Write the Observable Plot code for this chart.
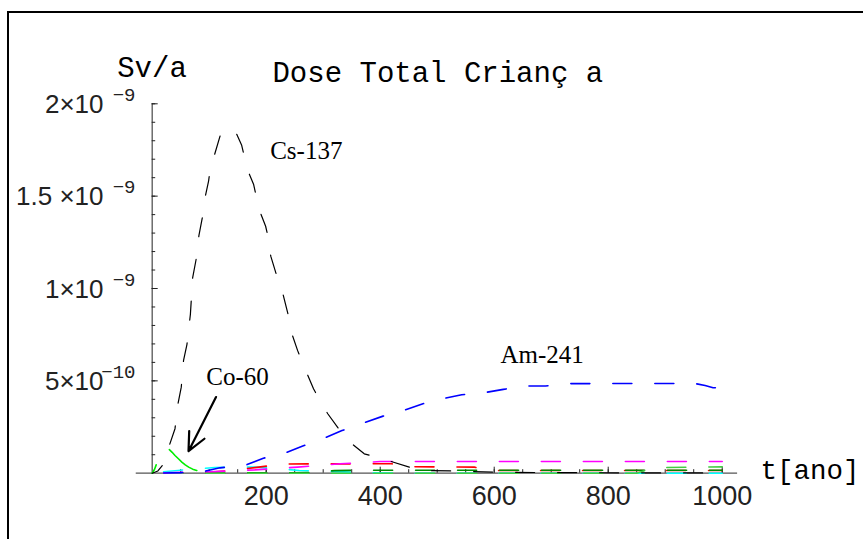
<!DOCTYPE html>
<html><head><meta charset="utf-8">
<script src="https://cdn.jsdelivr.net/npm/d3@7"></script>
<script src="https://cdn.jsdelivr.net/npm/@observablehq/plot@0.6"></script>
<style>
html,body{margin:0;padding:0;background:#fff;overflow:hidden}
#wrap{position:relative;width:863px;height:539px;overflow:hidden}
#frame{position:absolute;left:7px;top:11px;width:900px;height:600px;border-left:2px solid #000;border-top:2px solid #000;pointer-events:none;box-sizing:border-box}
#wrap svg{position:absolute;left:0;top:0}
</style></head><body><div id="wrap"><div id="frame"></div></div>
<script>
// ---- data (dose in units of 1e-9 Sv/a, time in years) ----
const csT = [0,10,20,31,40,45,51,55,61,67,71,77,82,88,93,99,101,108,119,124,145,157,167,178,187,199,204,208,220,230,241,246,255,268,283,299,308,327,350,372,413,451,464,526,600,700,1000];
const csV = [0,0.012,0.05,0.159,0.241,0.372,0.466,0.611,0.698,0.86,1.059,1.157,1.288,1.384,1.496,1.583,1.631,1.71,1.825,1.857,1.857,1.775,1.644,1.563,1.433,1.337,1.27,1.175,1.054,0.963,0.828,0.746,0.665,0.566,0.457,0.367,0.322,0.241,0.16,0.105,0.069,0.033,0.015,0.012,0.006,0.003,0.001];

const amT = [0,50,93,119,166,195,235,263,303,333,372,405,441,475,515,543,583,616,656,690,730,762,804,912,951,970,984,1000];
const amV = [0,0.003,0.011,0.029,0.046,0.081,0.112,0.146,0.192,0.231,0.273,0.309,0.340,0.376,0.407,0.425,0.436,0.454,0.472,0.472,0.485,0.485,0.486,0.486,0.486,0.475,0.463,0.46];

const coT = [0,4,7,12,18,25,30,35,40,46,52,58,64,71,78,90,110,150,250];
const coV = [0,0.02,0.045,0.09,0.12,0.13,0.128,0.113,0.096,0.078,0.06,0.045,0.033,0.022,0.015,0.01,0.005,0.001,0];

const mgT = [0,100,180,255,330,400,1000];
const mgV = [0,0.008,0.018,0.033,0.051,0.063,0.063];

const rdT = [0,100,130,180,230,420,450,565,590,1000];
const rdV = [0,0.005,0.012,0.03,0.05,0.051,0.035,0.033,0.015,0.015];

const cyT = [0,20,45,110,180,220,258,314,360,450,1000];
const cyV = [0,0.008,0.015,0.031,0.033,0.025,0.015,0.01,0.004,0,0];

const dgT = [0,280,320,360,1000];
const dgV = [0,0.003,0.014,0.016,0.016];

const lgT = [0,850,880,1000];
const lgV = [0,0,0.03,0.034];

const xMinor = d3.range(50, 1001, 50);
const xMajor = [200,400,600,800,1000];
const xLabels = ["200","400","600","800","1000"];
const yMinor = d3.range(1, 21).map(d => d / 10);
const yMajor = [0.5,1,1.5,2];
const yLabelBase = ["5\u00d710","1\u00d710","1.5 \u00d710","2\u00d710"];
const yLabelExp = ["\u221210","\u22129","\u22129","\u22129"];

const title = "Dose Total Crian\u00e7 a";
const yUnit = "Sv/a";
const xUnit = "t[ano]";
const notes = [
  {label:"Cs-137", t:207, v:1.742},
  {label:"Co-60", t:95, v:0.519},
  {label:"Am-241", t:611, v:0.638}
];
const arrowFrom = {t:112, v:0.412};
const arrowTo = {t:63.7, v:0.119};

// ---- layout ----
const W = 863, H = 539;
const mL = 151.7, mR = 125.9, mT = 103.3, mB = 66.3;
const xDom = [0, 1027], yDom = [0, 2];
const pxX = (W - mL - mR) / (xDom[1] - xDom[0]);
const pxY = (H - mT - mB) / (yDom[1] - yDom[0]);

const rows = (T, V) => T.map((t, i) => ({t, v: V[i]}));
const series = [
  {data: rows(cyT, cyV), color:"#00ffff"},
  {data: rows(rdT, rdV), color:"#ff0000"},
  {data: rows(dgT, dgV), color:"#008800"},
  {data: rows(lgT, lgV), color:"#44cc44"},
  {data: rows(mgT, mgV), color:"#ff00ff"},
  {data: rows(amT, amV), color:"#0000ff"},
];

const dash = "19,23";
const lineMarks = series.map(s => Plot.line(s.data, {x:"t", y:"v", stroke:s.color, strokeWidth:1.6, strokeDasharray:dash, strokeDashoffset:30.5}));

const tickX = len => len / pxY;
const tickY = len => len / pxX;

const chart = Plot.plot({
  width: W, height: H,
  marginLeft: mL, marginRight: mR, marginTop: mT, marginBottom: mB,
  x: {domain: xDom, axis: null},
  y: {domain: yDom, axis: null},
  style: {background: "transparent", overflow: "visible"},
  marks: [
    // axes lines
    Plot.ruleY([0], {x1: -28, x2: xDom[1], stroke:"#555", strokeWidth:1.3}),
    Plot.ruleX([0], {y1: 0, y2: 2, stroke:"#555", strokeWidth:1.3}),
    // x ticks
    Plot.ruleX(xMinor, {x: d => d, y1: 0, y2: tickX(3.5), stroke:"#222", strokeWidth:1}),
    Plot.ruleX(xMajor, {x: d => d, y1: 0, y2: tickX(6), stroke:"#222", strokeWidth:1}),
    // y ticks
    Plot.ruleY(yMinor, {y: d => d, x1: 0, x2: tickY(3.5), stroke:"#222", strokeWidth:1}),
    Plot.ruleY(yMajor, {y: d => d, x1: 0, x2: tickY(6), stroke:"#222", strokeWidth:1}),
    // x tick labels
    Plot.text(xMajor, {x: d => d, y: 0, text: (d, i) => xLabels[i], dy: 23, fontSize: 27, fontFamily: "Liberation Sans, Arial, sans-serif", fill:"#222"}),
    // y tick labels
    Plot.text(yMajor, {x: 0, y: d => d, text: (d, i) => yLabelBase[i], textAnchor: "end", dx: -48.7, dy: 1, fontSize: 26, fontFamily: "Liberation Sans, Arial, sans-serif", fill:"#222"}),
    Plot.text(yMajor, {x: 0, y: d => d, text: (d, i) => yLabelExp[i], textAnchor: "end", dx: -16.7, dy: -9, fontSize: 19, fontFamily: "Liberation Mono, Courier New, monospace", fill:"#222"}),
    // curves
    ...lineMarks,
    Plot.line(rows(coT, coV), {x:"t", y:"v", stroke:"#00ee00", strokeWidth:1.6, strokeDasharray:"9.3,22.6,35,400"}),
    Plot.line(rows(csT, csV), {x:"t", y:"v", stroke:"#000", strokeWidth:1.2, strokeDasharray:dash, strokeDashoffset:6}),
    // titles
    Plot.text([yUnit], {x: -61.4, y: 2.195, text: d => d, textAnchor:"start", fontSize: 29, fontFamily: "Liberation Mono, Courier New, monospace", fill:"#000"}),
    Plot.text([title], {x: 211, y: 2.168, text: d => d, textAnchor:"start", fontSize: 29, fontFamily: "Liberation Mono, Courier New, monospace", fill:"#000"}),
    Plot.text([xUnit], {x: 1067, y: 0.019, text: d => d, textAnchor:"start", fontSize: 27.5, fontFamily: "Liberation Mono, Courier New, monospace", fill:"#000"}),
    // annotations
    Plot.text(notes, {x:"t", y:"v", text:"label", textAnchor:"start", fontSize: 25, fontFamily: "Liberation Serif, Times New Roman, serif", fill:"#000"}),
    Plot.arrow([{a: arrowFrom, b: arrowTo}], {x1: d => d.a.t, y1: d => d.a.v, x2: d => d.b.t, y2: d => d.b.v, stroke:"#000", strokeWidth:2.2, headLength: 14, headAngle: 50})
  ]
});
document.getElementById("wrap").appendChild(chart);
</script>
</body></html>
